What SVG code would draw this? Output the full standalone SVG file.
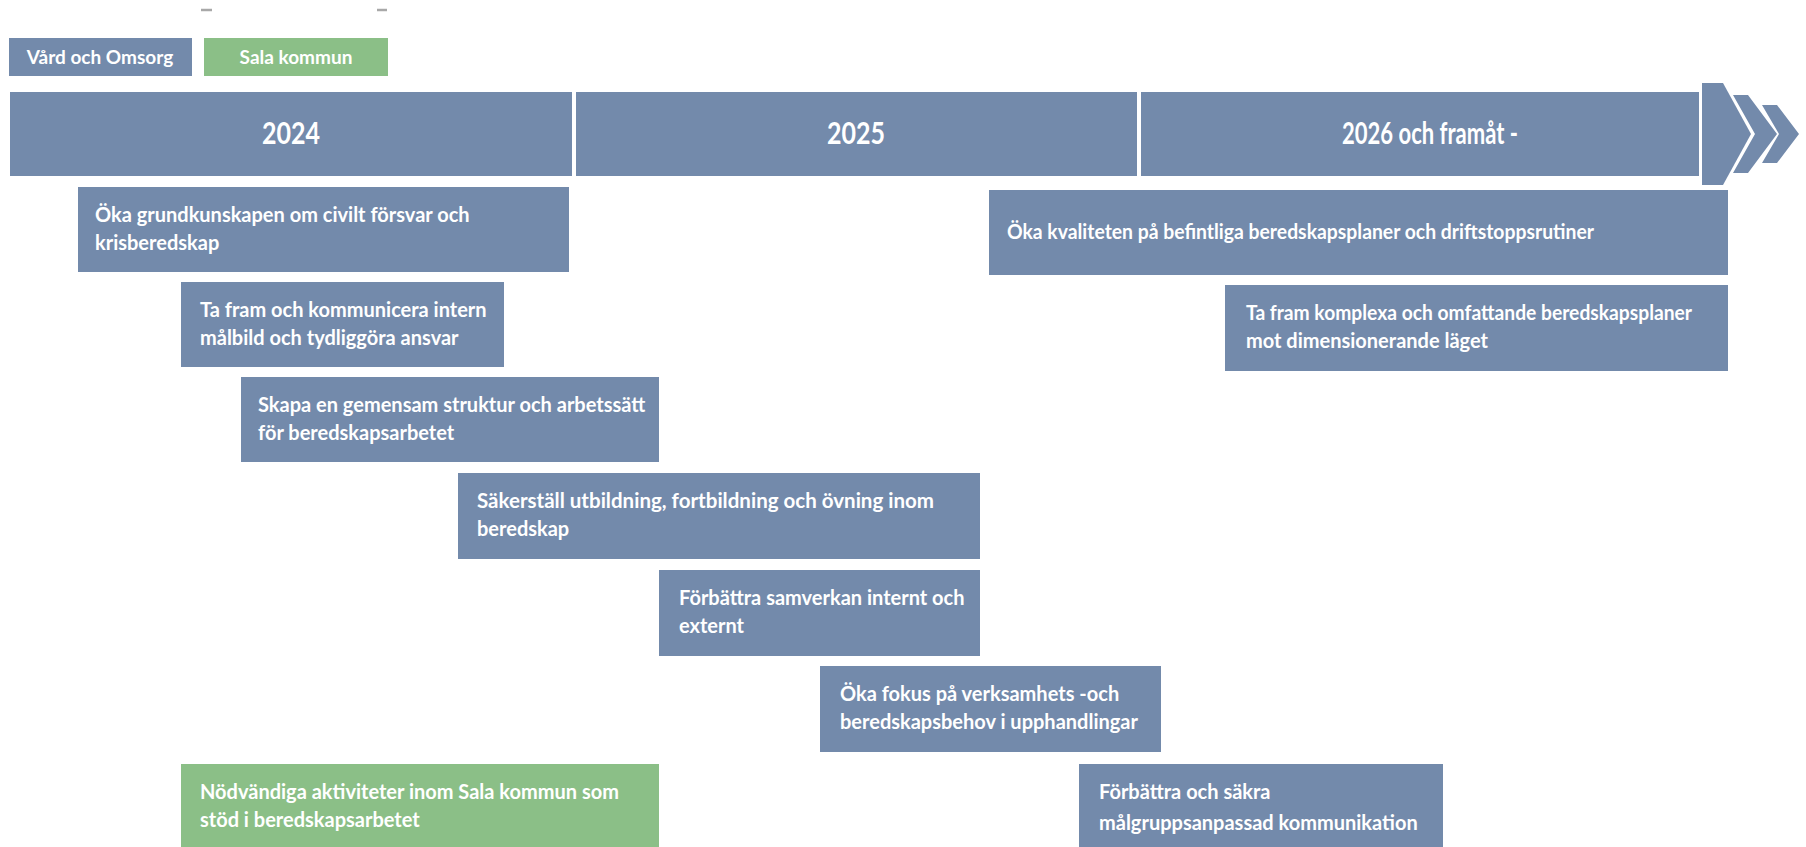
<svg xmlns="http://www.w3.org/2000/svg" width="1806" height="847" viewBox="0 0 1806 847">
<style>
.b{fill:#738aab}
.g{fill:#8bbf87}
.t{font-family:Lato,"Liberation Sans",sans-serif;font-weight:700;font-size:20px;fill:#ffffff}
.y{font-family:Lato,"Liberation Sans",sans-serif;font-weight:700;font-size:30px;fill:#ffffff;text-anchor:middle}
.l{font-family:Lato,"Liberation Sans",sans-serif;font-weight:700;font-size:19px;fill:#ffffff;text-anchor:middle}
</style>
<rect width="1806" height="847" fill="#ffffff"/>
<g id="marks" stroke="#a8a8a8" stroke-width="2.5">
<line x1="201" y1="10" x2="212" y2="10"/>
<line x1="377" y1="10" x2="387" y2="10"/>
</g>
<g id="legend-vard"><rect class="b" x="9" y="38" width="183" height="38"/><text class="l" x="100" y="64">Vård och Omsorg</text></g>
<g id="legend-sala"><rect class="g" x="204" y="38" width="184" height="38"/><text class="l" x="296" y="64">Sala kommun</text></g>
<g id="year-2024"><rect class="b" x="10" y="92" width="562" height="84"/><text class="y" x="291" y="144" textLength="58" lengthAdjust="spacingAndGlyphs">2024</text></g>
<g id="year-2025"><rect class="b" x="576" y="92" width="561" height="84"/><text class="y" x="856" y="144" textLength="58" lengthAdjust="spacingAndGlyphs">2025</text></g>
<g id="year-2026"><rect class="b" x="1141" y="92" width="558" height="84"/><text class="y" x="1430" y="144" textLength="176" lengthAdjust="spacingAndGlyphs">2026 och framåt -</text></g>
<g id="chevrons">
<polygon class="b" points="1702,83 1723,83 1751,134 1723,185 1702,185"/>
<polygon class="b" points="1733,95 1748,95 1777,134 1748,173 1733,173 1755,134"/>
<polygon class="b" points="1762,105 1777,105 1799,134 1777,163 1762,163 1779,134"/>
</g>
<g id="connectors"></g>
<g id="n1"><rect class="b" x="78" y="187" width="491" height="85"/><text class="t" x="95" y="222">Öka grundkunskapen om civilt försvar och</text><text class="t" x="95" y="250">krisberedskap</text></g>
<g id="n2"><rect class="b" x="181" y="282" width="323" height="85"/><text class="t" x="200" y="317">Ta fram och kommunicera intern</text><text class="t" x="200" y="345">målbild och tydliggöra ansvar</text></g>
<g id="n3"><rect class="b" x="241" y="377" width="418" height="85"/><text class="t" x="258" y="412">Skapa en gemensam struktur och arbetssätt</text><text class="t" x="258" y="440">för beredskapsarbetet</text></g>
<g id="n4"><rect class="b" x="458" y="473" width="522" height="86"/><text class="t" x="477" y="508" textLength="457" lengthAdjust="spacingAndGlyphs">Säkerställ utbildning, fortbildning och övning inom</text><text class="t" x="477" y="536">beredskap</text></g>
<g id="n5"><rect class="b" x="659" y="570" width="321" height="86"/><text class="t" x="679" y="605">Förbättra samverkan internt och</text><text class="t" x="679" y="633">externt</text></g>
<g id="n6"><rect class="b" x="820" y="666" width="341" height="86"/><text class="t" x="840" y="701">Öka fokus på verksamhets -och</text><text class="t" x="840" y="729">beredskapsbehov i upphandlingar</text></g>
<g id="n7"><rect class="g" x="181" y="764" width="478" height="83"/><text class="t" x="200" y="799">Nödvändiga aktiviteter inom Sala kommun som</text><text class="t" x="200" y="827">stöd i beredskapsarbetet</text></g>
<g id="n8"><rect class="b" x="1079" y="764" width="364" height="83"/><text class="t" x="1099" y="799">Förbättra och säkra</text><text class="t" x="1099" y="830">målgruppsanpassad kommunikation</text></g>
<g id="n9"><rect class="b" x="989" y="190" width="739" height="85"/><text class="t" x="1007" y="239" textLength="587" lengthAdjust="spacingAndGlyphs">Öka kvaliteten på befintliga beredskapsplaner och driftstoppsrutiner</text></g>
<g id="n10"><rect class="b" x="1225" y="285" width="503" height="86"/><text class="t" x="1246" y="320" textLength="446" lengthAdjust="spacingAndGlyphs">Ta fram komplexa och omfattande beredskapsplaner</text><text class="t" x="1246" y="348">mot dimensionerande läget</text></g>
</svg>
